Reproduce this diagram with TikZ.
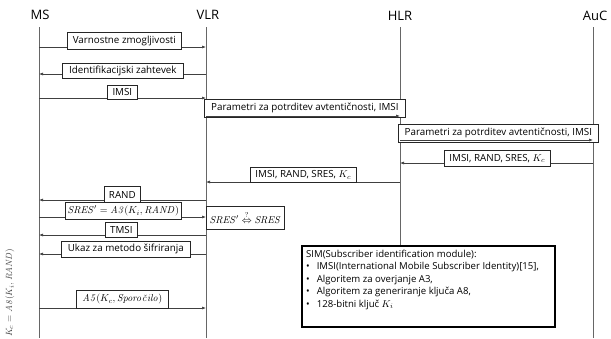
\documentclass[tikz,border=0pt]{standalone}
\usepackage[no-math]{fontspec}
\setmainfont{Open Sans}
\usetikzlibrary{arrows.meta}
\newcommand\msgbx[6]{\node[lbl, minimum width=#4, minimum height=#5] (#1) at (#2,#3) {#6};}
\begin{document}
\begin{tikzpicture}[x=1pt,y=-1pt,
  life/.style={draw=black!60, line width=0.9pt},
  msg/.style={draw=black!75, line width=0.6pt, -{Latex[length=4pt,width=3pt]}},
  lbl/.style={draw=black!85, line width=0.7pt, fill=white, inner sep=0pt, font=\fontsize{9.8}{10}\selectfont, anchor=north west},
  ttl/.style={font=\fontsize{13}{16}\selectfont}]
\useasboundingbox (0,0) rectangle (611,338);
% titles
\node[ttl] (tms) at (40,15) {MS};
\node[ttl] (tvlr) at (208,15) {VLR};
\node[ttl] (thlr) at (400,16) {HLR};
\node[ttl] (tauc) at (595,16) {AuC};
% lifelines
\coordinate (ms) at (39,27);
\coordinate (vlr) at (206,27);
\coordinate (hlr) at (400,27);
\coordinate (auc) at (593,27);
\coordinate (msb) at (39,338);
\coordinate (vlrb) at (206,338);
\coordinate (aucb) at (593,338);
% SIM box
\node[draw=black, line width=1.6pt, fill=white, inner sep=0pt, minimum width=253pt, minimum height=81pt, anchor=north west] (sim) at (301,245) {};
\draw[life] (ms) -- (msb);
\draw[life] (vlr) -- (vlrb);
\draw[life] (hlr) -- (sim.north -| hlr);
\draw[life] (auc) -- (aucb);
% arrows (behind boxes)
\draw[msg] (ms |- 0,47) -- (vlr |- 0,47);
\draw[msg] (vlr |- 0,74) -- (ms |- 0,74);
\draw[msg] (ms |- 0,98) -- (vlr |- 0,98);
\draw[msg] (auc |- 0,163) -- (hlr |- 0,163);
\draw[msg] (hlr |- 0,182) -- (vlr |- 0,182);
\draw[msg] (vlr |- 0,200) -- (ms |- 0,200);
\draw[msg] (ms |- 0,217) -- (vlr |- 0,217);
\draw[msg] (vlr |- 0,235) -- (ms |- 0,235);
\draw[msg] (vlr |- 0,254) -- (ms |- 0,254);
\draw[msg] (ms |- 0,308) -- (vlr |- 0,308);
% message boxes
\msgbx{m1}{67}{32}{114pt}{17pt}{Varnostne zmogljivosti}
\msgbx{m2}{62}{63}{121pt}{15pt}{Identifikacijski zahtevek}
\msgbx{m3}{107}{85}{30pt}{14pt}{IMSI}
\msgbx{m4}{204}{99}{201pt}{18pt}{Parametri za potrditev avtentičnosti, IMSI}
\msgbx{m5}{398}{124}{200pt}{18pt}{Parametri za potrditev avtentičnosti, IMSI}
\msgbx{m6}{444}{150}{106pt}{16pt}{IMSI, RAND, SRES, $K_c$}
\msgbx{m7}{250}{167}{106pt}{15pt}{IMSI, RAND, SRES, $K_c$}
\msgbx{m8}{104}{186}{36pt}{17pt}{RAND}
\msgbx{m9}{65}{202}{116pt}{17pt}{$\mathit{SRES}' = \mathit{A3}(K_i,\mathit{RAND})$}
\msgbx{m10}{206}{206}{78pt}{23pt}{$\mathit{SRES}'\stackrel{?}{\Leftrightarrow}\mathit{SRES}$}
\msgbx{m11}{105}{222}{32pt}{15pt}{TMSI}
\msgbx{m12}{61}{241}{129pt}{16pt}{Ukaz za metodo šifriranja}
\msgbx{m13}{76}{290}{92pt}{18pt}{$\mathit{A5}(K_c,\mathit{Sporo\check{c}ilo})$}
% arrows along bottom of parameter boxes
\draw[msg] (vlr |- 0,116) -- (hlr |- 0,116);
\draw[msg] (hlr |- 0,140) -- (auc |- 0,140);
% rotated label
\node[rotate=90, text=black!75, font=\fontsize{9.4}{10}\selectfont] (ka8) at (10,293) {$K_c = \mathit{A8}(K_i,\mathit{RAND})$};
% SIM text
\node[anchor=north west, inner sep=0pt, font=\fontsize{9.6}{12.4}\selectfont, align=left] (simtxt) at (306,250) {SIM(Subscriber identification module):\\
\textbullet\hspace{7pt}IMSI(International Mobile Subscriber Identity)[15],\\
\textbullet\hspace{7pt}Algoritem za overjanje A3,\\
\textbullet\hspace{7pt}Algoritem za generiranje ključa A8,\\
\textbullet\hspace{7pt}128-bitni ključ $K_i$};
\end{tikzpicture}
\end{document}
